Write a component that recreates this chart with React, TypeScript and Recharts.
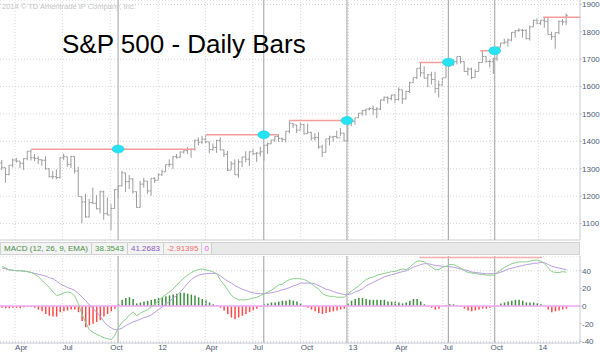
import React from 'react';
import { ComposedChart, Bar, Line, XAxis, YAxis, CartesianGrid, ReferenceLine, ReferenceDot, Cell } from 'recharts';

// weekly bars, first week starts Monday 2011-03-07
const START = '2011-03-07';

const hi = [
  1332, 1304, 1314, 1337, 1340, 1329, 1338, 1364, 1371, 1354,
  1346, 1334, 1346, 1302, 1292, 1298, 1341, 1356, 1344, 1347,
  1345, 1307, 1199, 1208, 1190, 1231, 1204, 1220, 1220, 1195,
  1171, 1225, 1239, 1293, 1285, 1277, 1266, 1217, 1256, 1267,
  1255, 1265, 1269,
  1284, 1296, 1315, 1334, 1345, 1354, 1363, 1368, 1379, 1374,
  1406, 1414, 1420, 1422, 1398, 1392, 1406, 1415, 1370, 1365,
  1328, 1334, 1335, 1344, 1364, 1363, 1374, 1361, 1381, 1386,
  1395, 1406, 1419, 1426, 1414, 1437, 1474, 1467, 1460, 1470,
  1464, 1465, 1435, 1430, 1434, 1388, 1409, 1421, 1420, 1439,
  1449, 1431, 1467,
  1472, 1486, 1503, 1514, 1518, 1524, 1530, 1525, 1552, 1564,
  1564, 1570, 1573, 1597, 1588, 1585, 1618, 1633, 1667, 1687,
  1674, 1646, 1654, 1654, 1621, 1632, 1680, 1693, 1698, 1710,
  1710, 1692, 1670, 1669, 1663, 1690, 1730, 1711, 1696, 1705,
  1745, 1760, 1775, 1775, 1799, 1806, 1813, 1810, 1809, 1823,
  1844, 1849,
  1843, 1851, 1850, 1800, 1798, 1841, 1847, 1867,
];

const lo = [
  1295, 1249, 1276, 1305, 1322, 1303, 1295, 1331, 1330, 1328,
  1317, 1311, 1297, 1268, 1262, 1262, 1264, 1331, 1307, 1303,
  1283, 1199, 1101, 1121, 1122, 1172, 1152, 1137, 1114, 1131,
  1075, 1155, 1191, 1235, 1215, 1226, 1209, 1158, 1158, 1231,
  1209, 1202, 1248,
  1258, 1274, 1289, 1306, 1300, 1337, 1340, 1355, 1354, 1340,
  1366, 1386, 1391, 1394, 1357, 1365, 1358, 1367, 1343, 1292,
  1296, 1277, 1267, 1306, 1324, 1310, 1350, 1325, 1345, 1329,
  1354, 1391, 1398, 1398, 1397, 1396, 1429, 1449, 1430, 1441,
  1425, 1428, 1403, 1403, 1373, 1343, 1360, 1385, 1398, 1411,
  1419, 1400, 1398,
  1456, 1461, 1485, 1494, 1495, 1513, 1497, 1485, 1514, 1547,
  1538, 1550, 1539, 1549, 1537, 1553, 1577, 1614, 1627, 1636,
  1630, 1598, 1608, 1577, 1560, 1604, 1632, 1672, 1676, 1681,
  1684, 1654, 1640, 1627, 1633, 1656, 1688, 1687, 1670, 1646,
  1693, 1743, 1755, 1746, 1765, 1779, 1800, 1779, 1772, 1768,
  1818, 1827,
  1824, 1815, 1790, 1770, 1738, 1791, 1824, 1825,
];

const op = [
  1321, 1304, 1279, 1313, 1332, 1328, 1320, 1337, 1364, 1340,
  1338, 1333, 1331, 1300, 1271, 1271, 1268, 1340, 1344, 1316,
  1345, 1292, 1199, 1179, 1124, 1177, 1174, 1154, 1216, 1136,
  1131, 1155, 1224, 1238, 1285, 1253, 1263, 1216, 1159, 1244,
  1255, 1219, 1265,
  1258, 1278, 1289, 1315, 1316, 1344, 1342, 1361, 1366, 1370,
  1371, 1404, 1397, 1408, 1398, 1370, 1378, 1403, 1369, 1353,
  1295, 1318, 1278, 1325, 1343, 1335, 1362, 1355, 1357, 1362,
  1386, 1391, 1405, 1418, 1411, 1407, 1437, 1466, 1460, 1441,
  1461, 1428, 1433, 1412, 1414, 1380, 1360, 1409, 1416, 1418,
  1413, 1430, 1402,
  1466, 1472, 1486, 1503, 1513, 1518, 1520, 1516, 1518, 1551,
  1561, 1557, 1569, 1553, 1588, 1555, 1582, 1614, 1633, 1667,
  1650, 1631, 1643, 1626, 1593, 1606, 1632, 1680, 1692, 1691,
  1710, 1691, 1655, 1664, 1633, 1655, 1688, 1710, 1692, 1691,
  1703, 1744, 1759, 1762, 1770, 1798, 1804, 1806, 1805, 1775,
  1818, 1842,
  1831, 1842, 1838, 1790, 1782, 1797, 1838, 1836,
];

const cl = [
  1304, 1279, 1313, 1332, 1328, 1320, 1337, 1364, 1340, 1338,
  1333, 1331, 1300, 1271, 1271, 1268, 1340, 1344, 1316, 1345,
  1292, 1199, 1179, 1124, 1177, 1174, 1154, 1216, 1136, 1131,
  1155, 1224, 1238, 1285, 1253, 1263, 1216, 1159, 1244, 1255,
  1219, 1265, 1258,
  1278, 1289, 1315, 1316, 1344, 1342, 1361, 1366, 1370, 1371,
  1404, 1397, 1408, 1398, 1370, 1378, 1403, 1369, 1353, 1295,
  1318, 1278, 1325, 1343, 1335, 1362, 1355, 1357, 1362, 1386,
  1391, 1405, 1418, 1411, 1407, 1437, 1466, 1460, 1441, 1461,
  1428, 1433, 1412, 1414, 1380, 1360, 1409, 1416, 1418, 1413,
  1430, 1402, 1466,
  1472, 1486, 1503, 1513, 1518, 1520, 1516, 1518, 1551, 1561,
  1557, 1569, 1553, 1588, 1555, 1582, 1614, 1633, 1667, 1650,
  1631, 1643, 1626, 1593, 1606, 1632, 1680, 1692, 1691, 1710,
  1691, 1655, 1664, 1633, 1655, 1688, 1710, 1692, 1691, 1703,
  1744, 1759, 1762, 1770, 1798, 1804, 1806, 1805, 1775, 1818,
  1842, 1831,
  1842, 1838, 1790, 1782, 1797, 1838, 1836, 1859,
];

const macd = [
  45, 43, 41, 40.5, 40, 40, 39.5, 39, 38, 36,
  33, 29, 25, 21, 16, 12, 13, 15, 16, 15,
  11, 2, -10, -19, -27, -30, -32, -34, -36, -37,
  -38, -33, -24, -18, -15, -10, -7, -11, -8, -6,
  -4, -1, 2, 6, 10, 13, 16, 19.5, 24, 28,
  32, 35, 38, 40, 41.5, 42, 41, 40, 38.5, 36.5,
  29, 24, 18, 12, 9, 7, 7, 7, 8, 9,
  10, 12, 14, 16, 18, 21, 24, 25, 28, 30,
  31, 31, 31, 30, 28, 25, 22, 19, 14, 12,
  11, 11, 10, 10, 10, 14, 17, 20, 23, 27,
  30, 32, 33, 35, 36, 37, 38, 39, 39, 41,
  42, 41, 44, 48, 51, 51, 50, 47, 44, 41,
  41.5, 44, 45, 47, 47, 45, 43, 40, 38, 37.5,
  37, 36, 36, 35, 35, 35, 38, 41, 44, 46,
  48, 49, 50, 50, 50, 51, 52, 52, 51, 48,
  43, 39, 38, 38, 39, 38.35,
];

const signal = [
  43, 42, 41, 40.5, 40, 40, 39.5, 39, 38, 37,
  36, 35, 34, 32, 31, 28, 25, 23, 21, 19.5,
  17.6, 14, 10, 6, 1, -3, -7, -12, -18, -22,
  -25, -27, -26.5, -25, -22, -20, -18, -16.5, -15, -13,
  -12, -10, -7, -4, -1, 2.5, 5, 9, 12, 16,
  21, 26, 30, 33, 35, 36, 36.6, 37, 37, 36.6,
  34, 31, 28, 26, 23, 21, 19, 17.6, 16, 15,
  14, 14, 14, 14.5, 15, 16, 17, 18.5, 19.5, 21,
  23, 24, 26, 26, 26, 26, 25, 23, 21, 19,
  18, 16.5, 15, 14, 13, 13, 14, 16, 17.6, 19.5,
  23, 25, 27, 29, 31, 33, 34.5, 35.5, 36.6, 38,
  39, 40, 42, 44, 45.5, 47, 48, 48, 47, 46,
  45.5, 45, 45, 44.5, 44, 43, 42, 41, 40, 38.5,
  38, 37.5, 37, 36.6, 36.6, 36.6, 37, 38.5, 40, 42,
  43, 44, 45, 46, 47, 47.5, 48.3, 48.6, 49.5, 49,
  47, 45, 44, 43, 42, 41.27,
];

const hist = [
  -2, -2.5, -2.5, -2, -2, -2.5, -1.5, -1, -1, -2,
  -4, -6, -9, -11, -12, -12, -7, -6, -5, -4,
  -4, -7, -17, -24, -22, -20, -18, -16, -12, -9,
  -6, -3, 2, 7, 9, 10, 8, 3, 4, 5,
  6, 7, 8, 9, 10, 11, 12, 13, 14, 15,
  15, 14, 13, 12, 10, 8, 7, 4, 2, 1,
  -2, -5, -9, -13, -15, -13, -11, -9, -7, -5,
  -3, -1, 2, 3, 4, 4, 5, 6, 6, 7,
  6, 5, 3, -1, -2, -4, -6, -8, -9, -8,
  -7, -6, -5, -4, -3, 3, 6, 8, 9, 9,
  8, 7, 7, 7, 7, 7, 5, 5, 5, 4,
  3, 4, 6, 8, 8, 5, 2, -1, -2, -4,
  -3, -1, 1, 2, 2, 1, -1, -3, -5, -6,
  -5, -4, -3, -3, -2, -1, 1, 3, 4, 5,
  6, 7, 7, 6, 4, 4, 4, 3, 2, 0.5,
  -4, -7, -6, -5, -4, -2.91,
];

const tickDates = [
  '2011-04-01', '2011-07-01', '2011-10-01', '2012-01-01', '2012-04-01', '2012-07-01',
  '2012-10-01', '2013-01-01', '2013-04-01', '2013-07-01', '2013-10-01', '2014-01-01',
];
const tickLabels = ['Apr', 'Jul', 'Oct', '12', 'Apr', 'Jul', 'Oct', '13', 'Apr', 'Jul', 'Oct', '14'];
const priceTicks = [1100, 1200, 1300, 1400, 1500, 1600, 1700, 1800, 1900];
const macdTicks = [-40, -20, 0, 20, 40];

// marked breakouts (grey verticals + cyan dots)
const eventDates = ['2011-10-16', '2012-07-22', '2012-12-29', '2013-07-12', '2013-10-09'];
const eventPrices = [1372, 1424, 1476, 1689, 1731];

// red resistance levels
const levelStarts = ['2011-05-02', '2012-04-02', '2012-09-09', '2013-05-17', '2013-09-11', '2014-01-10'];
const levelEnds = ['2012-03-13', '2012-08-19', '2013-01-11', '2013-07-21', '2013-10-09', '2014-03-23'];
const levelPrices = [1371, 1424, 1476, 1688, 1731, 1853];
const macdLevelStart = '2013-05-17';
const macdLevelEnd = '2014-01-08';
const macdLevelValue = 55;

const day = (d: string) => (Date.parse(d) - Date.parse(START)) / 86400000;
const X_DOMAIN: [number, number] = [-4, 1111];
const tickPos = tickDates.map(day);

const rows = cl.map((c, k) => ({
  t: 7 * k,
  hi: hi[k],
  lo: lo[k],
  op: op[k],
  cl: c,
  macd: macd[k],
  signal: signal[k],
  hist: hist[k],
}));

const AXIS_TEXT = '#4e5b75';
const FONT = '"Liberation Sans", Arial, sans-serif';

const OhlcShape = (props: any) => {
  const { x, y, width, height, payload } = props;
  if (x == null || y == null) return null;
  const top = Math.min(y, y + height);
  const h = Math.abs(height);
  const cx = x + width / 2;
  const span = payload.hi - payload.lo || 1;
  const py = (v: number) => top + ((payload.hi - v) / span) * h;
  return (
    <g stroke="#9c9c9c" strokeWidth={1}>
      <line x1={cx} x2={cx} y1={top} y2={top + h} />
      <line x1={cx - 1.6} x2={cx} y1={py(payload.op)} y2={py(payload.op)} />
      <line x1={cx} x2={cx + 1.6} y1={py(payload.cl)} y2={py(payload.cl)} />
    </g>
  );
};

const CyanDot = (props: any) => (
  <ellipse cx={props.cx} cy={props.cy} rx={6} ry={4} fill="#27e3f2" stroke="#19cde0" strokeWidth={0.5} />
);

const DateTick = ({ x, y, payload }: any) => {
  const i = tickPos.indexOf(payload.value);
  return (
    <text x={x} y={y} dy="0.71em" textAnchor="start" fontSize={8} fill={AXIS_TEXT} fontFamily={FONT}>
      {tickLabels[i]}
    </text>
  );
};

const boxStyle: React.CSSProperties = {
  display: 'inline-block',
  padding: '0 3px',
  height: 11,
  lineHeight: '11px',
  background: '#f3f3f3',
  borderRight: '1px solid #cfcfcf',
};

export default function App() {
  return (
    <div style={{ position: 'absolute', left: 0, top: 0, width: 600, height: 353, background: '#fff', fontFamily: FONT, overflow: 'hidden' }}>
      <div style={{ position: 'absolute', left: 0, top: 0 }}>
        <ComposedChart width={600} height={241} data={rows} margin={{ top: 0, right: 0, bottom: 1, left: 0 }}>
          <XAxis type="number" dataKey="t" domain={X_DOMAIN} allowDataOverflow hide />
          <YAxis
            orientation="right"
            width={20}
            domain={[1040, 1916]}
            ticks={priceTicks}
            allowDataOverflow
            tickSize={2}
            tickMargin={0}
            tick={{ fontSize: 8, fill: AXIS_TEXT, fontFamily: FONT }}
            axisLine={{ stroke: '#c5cad3' }}
            tickLine={{ stroke: '#c5cad3' }}
          />
          <CartesianGrid vertical={false} stroke="#d4d4d4" strokeDasharray="1 2" />
          {tickPos.map((t) => (
            <ReferenceLine key={'g' + t} x={t} stroke="#d8d8d8" strokeDasharray="1 2" />
          ))}
          <ReferenceLine y={1040} stroke="#d0d4da" />
          {eventDates.map((d) => (
            <ReferenceLine key={'e' + d} x={day(d)} stroke="#b0b0b0" strokeWidth={1.2} />
          ))}
          {levelPrices.map((p, i) => (
            <ReferenceLine
              key={'l' + i}
              segment={[{ x: day(levelStarts[i]), y: p }, { x: day(levelEnds[i]), y: p }]}
              stroke="#f59c9c"
              strokeWidth={1.5}
              ifOverflow="visible"
            />
          ))}
          <Bar dataKey={(d: any) => [d.lo, d.hi]} barSize={3} shape={OhlcShape} isAnimationActive={false} />
          {eventDates.map((d, i) => (
            <ReferenceDot key={'d' + d} x={day(d)} y={eventPrices[i]} shape={CyanDot} />
          ))}
        </ComposedChart>
      </div>

      <div style={{ position: 'absolute', left: 2, top: 3, fontSize: 7.5, lineHeight: 1, color: '#c4c4c4', whiteSpace: 'nowrap' }}>
        2014 © TD Ameritrade IP Company, Inc.
      </div>
      <div style={{ position: 'absolute', left: 62, top: 31, fontSize: 26, lineHeight: 1, color: '#000', whiteSpace: 'nowrap' }}>
        S&amp;P 500 - Daily Bars
      </div>

      <div
        style={{
          position: 'absolute', left: 0, top: 242, width: 578, height: 11,
          background: '#e9e9e9', border: '1px solid #d2d2d2', fontSize: 8, whiteSpace: 'nowrap',
        }}
      >
        <span style={{ ...boxStyle, color: '#4b8b4b' }}>MACD (12, 26, 9, EMA)</span>
        <span style={{ ...boxStyle, color: '#4e9a4e' }}>38.3543</span>
        <span style={{ ...boxStyle, color: '#8a56c6' }}>41.2683</span>
        <span style={{ ...boxStyle, color: '#f26a6a' }}>-2.91395</span>
        <span style={{ ...boxStyle, color: '#ee5cee', padding: '0 2px' }}>0</span>
      </div>

      <div style={{ position: 'absolute', left: 0, top: 256 }}>
        <ComposedChart width={600} height={97} data={rows} margin={{ top: 0, right: 0, bottom: 0, left: 0 }}>
          <XAxis
            type="number"
            dataKey="t"
            domain={X_DOMAIN}
            allowDataOverflow
            ticks={tickPos}
            height={10}
            tickSize={0}
            tickMargin={1}
            tick={<DateTick />}
            axisLine={{ stroke: '#c5cad3' }}
            interval={0}
          />
          <YAxis
            orientation="right"
            width={20}
            domain={[-41.9, 56.7]}
            ticks={macdTicks}
            allowDataOverflow
            tickSize={2}
            tickMargin={0}
            tick={{ fontSize: 8, fill: AXIS_TEXT, fontFamily: FONT }}
            axisLine={{ stroke: '#c5cad3' }}
            tickLine={{ stroke: '#c5cad3' }}
          />
          <CartesianGrid vertical={false} stroke="#d4d4d4" strokeDasharray="1 2" />
          {tickPos.map((t) => (
            <ReferenceLine key={'mg' + t} x={t} stroke="#d8d8d8" strokeDasharray="1 2" />
          ))}
          {eventDates.map((d) => (
            <ReferenceLine key={'me' + d} x={day(d)} stroke="#b0b0b0" strokeWidth={1.2} />
          ))}
          <ReferenceLine y={0} stroke="#f3a8f3" strokeWidth={1.5} />
          <ReferenceLine
            segment={[{ x: day(macdLevelStart), y: macdLevelValue }, { x: day(macdLevelEnd), y: macdLevelValue }]}
            stroke="#f7b0b0"
            strokeWidth={1.5}
          />
          <Bar dataKey="hist" barSize={1.5} isAnimationActive={false}>
            {rows.map((r) => (
              <Cell key={r.t} fill={r.hist >= 0 ? '#3f8f3f' : '#ff4a4a'} />
            ))}
          </Bar>
          <Line dataKey="signal" stroke="#b99be2" strokeWidth={1} dot={false} isAnimationActive={false} />
          <Line dataKey="macd" stroke="#8bd08b" strokeWidth={1} dot={false} isAnimationActive={false} />
        </ComposedChart>
      </div>
    </div>
  );
}
